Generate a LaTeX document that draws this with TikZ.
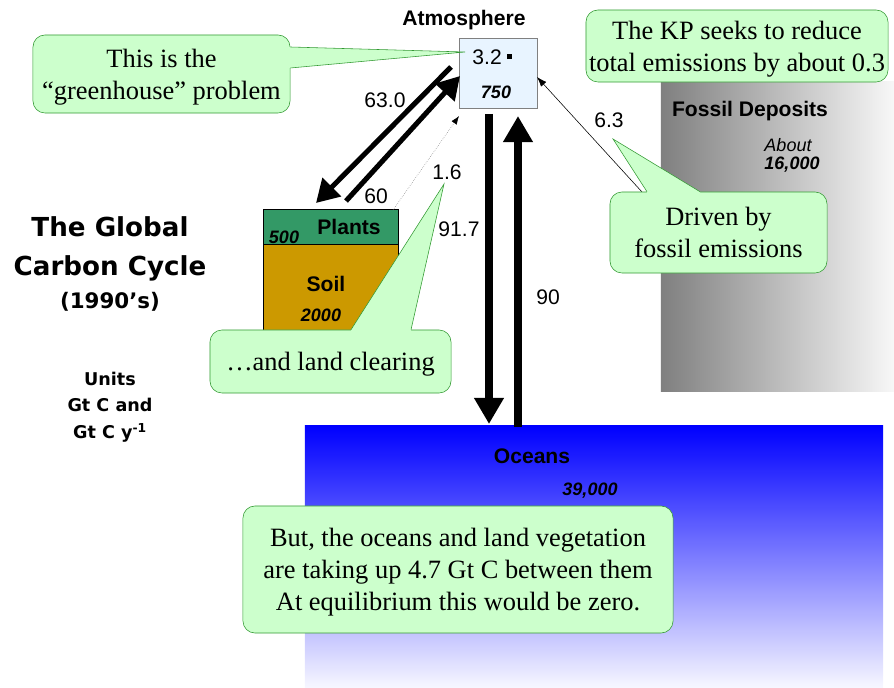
\documentclass[tikz,border=0pt]{standalone}
\usepackage{fontspec}
\setmainfont{Liberation Serif}
\setsansfont{Liberation Sans}
\newfontfamily\titlefont{DejaVu Sans}
\usetikzlibrary{arrows.meta}
\definecolor{callgreen}{HTML}{CCFFCC}
\definecolor{calledge}{HTML}{339933}
\definecolor{plantgreen}{HTML}{339966}
\definecolor{soilbrown}{HTML}{CC9900}
\definecolor{atmblue}{HTML}{E8F4FF}
\tikzset{
  lbl/.style = {inner sep=0pt, font=\sffamily\fontsize{15}{18}\selectfont},% flux values
  lbl_b/.style = {inner sep=0pt, font=\sffamily\bfseries\fontsize{15}{18}\selectfont},% reservoir names
  lbl_n/.style = {inner sep=0pt, font=\sffamily\bfseries\itshape\fontsize{12.8}{15}\selectfont},% reservoir sizes
  lbl_i/.style = {inner sep=0pt, font=\sffamily\itshape\fontsize{12.8}{15}\selectfont},
  heading/.style = {inner sep=0pt, align=center, font=\titlefont\bfseries\fontsize{18.6}{27.7}\selectfont},
  units/.style = {inner sep=0pt, align=center, font=\titlefont\bfseries\fontsize{12.5}{18.8}\selectfont},
  box/.style = {draw=gray, inner sep=0pt},% reservoir box
  fossil/.style = {inner sep=0pt, left color=black!50, right color=black!3,
    minimum width=5.825cm, minimum height=7.725cm},
  ocean/.style = {inner sep=0pt, top color=blue, bottom color=blue!3,
    minimum width=14.45cm, minimum height=6.55cm},
  callout/.style = {draw=calledge, fill=callgreen, rounded corners=0.3cm, text depth=0pt,
    align=center, inner sep=0pt, font=\fontsize{18.8}{22.8}\selectfont},% speech bubble
  tip_fill/.style = {fill=callgreen},
  tip_line/.style = {draw=calledge},
  flux/.style = {line width=5.3pt, -{Triangle[width=20pt,length=18.5pt]}},% big vertical flux
  flux_d/.style = {line width=3.6pt, -{Triangle[width=18pt,length=16pt]}},% land flux
  flux_t/.style = {draw=gray, densely dotted, -{Latex[length=6pt,width=4.5pt,color=black]}},
  flux_f/.style = {thin, -{Latex[length=7pt,width=5pt]}}
}

\begin{document}
\begin{tikzpicture}[x=0.025cm, y=-0.025cm]
\useasboundingbox (0,0) rectangle (894,688);

% reservoirs
\node[fossil] (fossil) at (777.5,236.5) {};
\node[ocean] (ocean) at (594,557) {};
\node[box, fill=atmblue, minimum width=1.95cm, minimum height=1.75cm] (atm) at (498,73) {};
\node[box, draw=black, fill=plantgreen, minimum width=3.375cm, minimum height=0.875cm] (plants) at (330.5,226.5) {};
\node[box, draw=black, fill=soilbrown, minimum width=3.375cm, minimum height=2.15cm] (soil) at (330.5,287) {};

% flux end points
\coordinate (dn_top) at (489,114);
\coordinate (dn_bot) at (489,424);
\coordinate (up_bot) at (518,427);
\coordinate (up_top) at (518,116);
\coordinate (gpp_top) at (451,67);
\coordinate (gpp_bot) at (316,203);
\coordinate (resp_bot) at (346,201);
\coordinate (resp_top) at (460,76);
\coordinate (luc_bot) at (393,210);
\coordinate (luc_top) at (459,116);
\coordinate (foss_bot) at (642,192);
\coordinate (foss_top) at (537,77);

\draw[flux] (dn_top) -- (dn_bot);
\draw[flux] (up_bot) -- (up_top);
\draw[flux_d] (gpp_top) -- (gpp_bot);
\draw[flux_d] (resp_bot) -- (resp_top);
\draw[flux_t] (luc_bot) -- (luc_top);
\draw[flux_f] (foss_bot) -- (foss_top);

% callouts
\node[callout, minimum width=6.425cm, minimum height=1.95cm] (gh) at (161.5,74)
  {This is the\\“greenhouse” problem};
\coordinate (gh_tip) at (465,52);
\fill[tip_fill] ([yshift=0.675cm]gh.east) -- (gh_tip) -- ([yshift=0.15cm]gh.east)
  -- ([xshift=-0.1cm,yshift=0.15cm]gh.east) -- ([xshift=-0.1cm,yshift=0.675cm]gh.east) -- cycle;
\draw[tip_line] ([yshift=0.675cm]gh.east) -- (gh_tip) -- ([yshift=0.15cm]gh.east);

\node[callout, minimum width=7.55cm, minimum height=1.8cm] (kp) at (737,46)
  {The KP seeks to reduce\\total emissions by about 0.3};

\node[callout, text depth=-5pt, minimum width=5.425cm, minimum height=2.025cm] (drv) at (718.5,232.5)
  {Driven by\\fossil emissions};
\coordinate (drv_tip) at (613,139);
\fill[tip_fill] ([xshift=-1.7875cm]drv.north) -- (drv_tip) -- ([xshift=-0.4625cm]drv.north)
  -- ([xshift=-0.4625cm,yshift=-0.1cm]drv.north) -- ([xshift=-1.7875cm,yshift=-0.1cm]drv.north) -- cycle;
\draw[tip_line] ([xshift=-1.7875cm]drv.north) -- (drv_tip) -- ([xshift=-0.4625cm]drv.north);

\node[callout, minimum width=6.025cm, minimum height=1.575cm] (land) at (330.5,361.5)
  {…and land clearing};
\coordinate (land_tip) at (444,184);
\fill[tip_fill] ([xshift=0.5125cm]land.north) -- (land_tip) -- ([xshift=2.0125cm]land.north)
  -- ([xshift=2.0125cm,yshift=-0.1cm]land.north) -- ([xshift=0.5125cm,yshift=-0.1cm]land.north) -- cycle;
\draw[tip_line] ([xshift=0.5125cm]land.north) -- (land_tip) -- ([xshift=2.0125cm]land.north);

\node[callout, minimum width=10.75cm, minimum height=3.175cm] (but) at (458,569.5)
  {But, the oceans and land vegetation\\are taking up 4.7 Gt C between them\\At equilibrium this would be zero.};

% labels
\node[lbl_b] (atm_name) at (464,20) {Atmosphere};
\node[lbl] (atm_rise) at (492,57) {3.2\hspace{3.5pt}\rule[3.6pt]{3.5pt}{3.5pt}};
\node[lbl_n] (atm_size) at (496,92) {750};
\node[lbl_b] (plants_name) at (349,227) {Plants};
\node[lbl_n] (plants_size) at (284,237) {500};
\node[lbl_b] (soil_name) at (326,284) {Soil};
\node[lbl_n] (soil_size) at (321,315) {2000};
\node[lbl_b] (fossil_name) at (750,111) {Fossil Deposits};
\node[lbl_i] (fossil_about) at (788,145) {About};
\node[lbl_n] (fossil_size) at (792,165) {16,000};
\node[lbl_b] (ocean_name) at (532,456) {Oceans};
\node[lbl_n] (ocean_size) at (590,491) {39,000};

\node[lbl] (v_gpp) at (385,100) {63.0};
\node[lbl] (v_resp) at (376,196) {60};
\node[lbl] (v_luc) at (447,172) {1.6};
\node[lbl] (v_down) at (459,229) {91.7};
\node[lbl] (v_up) at (548,297) {90};
\node[lbl] (v_foss) at (609,120) {6.3};

\node[heading] (title) at (110,248.5) {The Global\\Carbon Cycle};
\node[heading, font=\titlefont\bfseries\fontsize{15.2}{18}\selectfont] (decade) at (110,302) {(1990’s)};
\node[units] (unit_txt) at (110,407) {Units\\Gt C and\\Gt C y\textsuperscript{-1}};
\end{tikzpicture}
\end{document}
